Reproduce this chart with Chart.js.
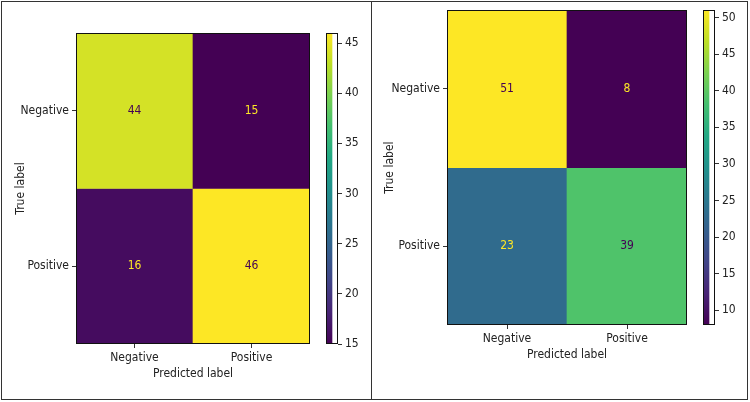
<!DOCTYPE html>
<html><head><meta charset="utf-8">
<script src="https://cdn.jsdelivr.net/npm/chart.js@4.4.1/dist/chart.umd.min.js"></script>
<style>
html,body{margin:0;padding:0;background:#fff;}
#wrap{position:relative;width:750px;height:402px;overflow:hidden;background:#fff;}
.box{position:absolute;}
.line{position:absolute;background:#333;}
</style></head><body>
<div id="wrap">
  <div class="box" style="left:0;top:0;width:372px;height:400px"><canvas id="h1"></canvas></div>
  <div class="box" style="left:326px;top:0;width:46px;height:400px"><canvas id="cb1"></canvas></div>
  <div class="box" style="left:372px;top:0;width:376px;height:400px"><canvas id="h2"></canvas></div>
  <div class="box" style="left:703px;top:0;width:45px;height:400px"><canvas id="cb2"></canvas></div>
  <div class="line" style="left:1px;top:1px;width:747px;height:1px"></div>
  <div class="line" style="left:1px;top:399px;width:747px;height:1px"></div>
  <div class="line" style="left:1px;top:1px;width:1px;height:399px"></div>
  <div class="line" style="left:747px;top:1px;width:1px;height:399px"></div>
  <div class="line" style="left:371px;top:1px;width:1px;height:399px"></div>
</div>
<script>
// ---- data ----
const predictedLabels = ["Negative", "Positive"];
const trueLabels = ["Negative", "Positive"];
const matrixA = [[44, 15], [16, 46]];
const matrixB = [[51, 8], [23, 39]];
const colorbarStep = 5;
const xTitle = "Predicted label";
const yTitle = "True label";

// ---- style ----
const FONT = "'Liberation Sans Narrow','DejaVu Sans Condensed','Liberation Sans',sans-serif";
const TXT = '#222';
const VIRIDIS = ['#440154','#482475','#414487','#355f8d','#2a788e','#21918c','#22a884','#44bf70','#7ad151','#bddf26','#fde725'];
function hex(h){return [parseInt(h.slice(1,3),16),parseInt(h.slice(3,5),16),parseInt(h.slice(5,7),16)];}
function viridis(t){
  t=Math.max(0,Math.min(1,t));
  const p=t*(VIRIDIS.length-1), i=Math.min(Math.floor(p),VIRIDIS.length-2), f=p-i;
  const a=hex(VIRIDIS[i]), b=hex(VIRIDIS[i+1]);
  return 'rgb('+a.map((v,k)=>Math.round(v+(b[k]-v)*f)).join(',')+')';
}
Chart.defaults.font.family = FONT;
Chart.defaults.font.size = 12;
Chart.defaults.color = TXT;

const framePlugin = {
  id:'frame',
  afterDatasetsDraw(chart){
    const {ctx, chartArea:a} = chart;
    ctx.save(); ctx.strokeStyle='#111'; ctx.lineWidth=1;
    ctx.strokeRect(Math.round(a.left)+0.5, Math.round(a.top)+0.5, Math.round(a.right-a.left)-1, Math.round(a.bottom-a.top)-1);
    ctx.restore();
  }
};

function heatmap(id, M, layout){
  const flat = M.flat();
  const vmin = Math.min(...flat), vmax = Math.max(...flat);
  const norm = v => (v-vmin)/(vmax-vmin);
  const datasets = M.map((row,i)=>({
    data: row.map(()=>[i, i+1]),
    values: row,
    backgroundColor: row.map(v=>viridis(norm(v))),
    borderWidth:0, grouped:false, barPercentage:1, categoryPercentage:1
  }));
  const labelPlugin = {
    id:'cellLabels',
    afterDatasetsDraw(chart){
      const ctx = chart.ctx;
      ctx.save(); ctx.font = '12px '+FONT; ctx.textAlign='center'; ctx.textBaseline='middle';
      chart.data.datasets.forEach((ds,di)=>{
        chart.getDatasetMeta(di).data.forEach((el,j)=>{
          const v = ds.values[j];
          ctx.fillStyle = norm(v) < 0.5 ? '#fde725' : '#440154';
          ctx.fillText(String(v), el.x, (el.y+el.base)/2);
        });
      });
      ctx.restore();
    }
  };
  new Chart(document.getElementById(id), {
    type:'bar',
    data:{labels: predictedLabels, datasets},
    options:{
      responsive:true, maintainAspectRatio:false, animation:false,
      layout:{padding:{top:layout.top, right:layout.right, bottom:0, left:0}},
      plugins:{legend:{display:false}, tooltip:{enabled:false}},
      scales:{
        x:{
          type:'category', offset:true,
          grid:{offset:false, drawOnChartArea:false, drawTicks:true, tickLength:4, color:'#333'},
          border:{display:false},
          ticks:{padding:3, color:TXT, maxRotation:0},
          title:{display:true, text:xTitle, color:TXT, font:{size:12}, padding:{top:0, bottom:layout.xtp}},
          afterFit(s){ s.height = layout.xh; }
        },
        y:{
          type:'linear', min:0, max:2, reverse:true,
          afterBuildTicks(s){ s.ticks = trueLabels.map((_,i)=>({value:i+0.5})); },
          ticks:{callback:(v)=>trueLabels[Math.floor(v)], padding:3, color:TXT},
          grid:{drawOnChartArea:false, drawTicks:true, tickLength:4, color:'#333'},
          border:{display:false},
          title:{display:true, text:yTitle, color:TXT, font:{size:12}, padding:{top:layout.ytp, bottom:0}},
          afterFit(s){ s.width = layout.yw; }
        }
      }
    },
    plugins:[labelPlugin, framePlugin]
  });
  return {vmin, vmax};
}

function colorbar(id, vmin, vmax, layout){
  new Chart(document.getElementById(id), {
    type:'bar',
    data:{labels:[''], datasets:[{
      data:[[vmin, vmax]],
      backgroundColor(c){
        const ch=c.chart, a=ch.chartArea; if(!a) return '#440154';
        const g=ch.ctx.createLinearGradient(0,a.bottom,0,a.top);
        VIRIDIS.forEach((col,i)=>g.addColorStop(i/(VIRIDIS.length-1), col));
        return g;
      },
      borderWidth:0, barPercentage:1, categoryPercentage:1
    }]},
    options:{
      responsive:true, maintainAspectRatio:false, animation:false,
      layout:{padding:{top:layout.top, bottom:layout.bottom, left:0, right:0}},
      plugins:{legend:{display:false}, tooltip:{enabled:false}},
      scales:{
        x:{display:false, offset:false},
        y:{
          position:'right', min:vmin, max:vmax,
          afterBuildTicks(s){
            const t=[];
            for(let v=Math.ceil(vmin/colorbarStep)*colorbarStep; v<=vmax; v+=colorbarStep) t.push({value:v});
            s.ticks=t;
          },
          ticks:{padding:3, color:TXT},
          grid:{drawOnChartArea:false, drawTicks:true, tickLength:4, color:'#333'},
          border:{display:false},
          afterFit(s){ s.width = layout.yw; }
        }
      }
    },
    plugins:[framePlugin]
  });
}

const rA = heatmap('h1', matrixA, {top:33, right:62, xh:56, yw:76, xtp:19, ytp:14});
colorbar('cb1', rA.vmin, rA.vmax, {top:33, bottom:56, yw:34});
const rB = heatmap('h2', matrixB, {top:10, right:61, xh:75, yw:75, xtp:38, ytp:11});
colorbar('cb2', rB.vmin, rB.vmax, {top:10, bottom:75, yw:33});
</script>
</body></html>
